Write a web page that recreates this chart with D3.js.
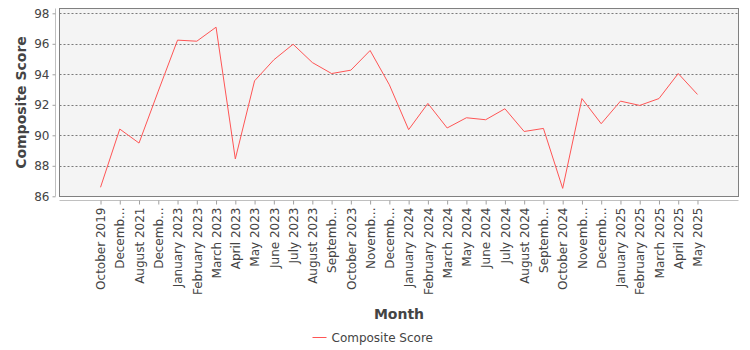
<!DOCTYPE html>
<html>
<head>
<meta charset="utf-8">
<script src="https://cdn.jsdelivr.net/npm/d3@7/dist/d3.min.js"></script>
<style>
  html, body { margin: 0; padding: 0; background: #ffffff; }
  svg { display: block; font-family: "DejaVu Sans", sans-serif; }
</style>
</head>
<body>
<svg id="chart" width="750" height="350"></svg>
<script>
// Monthly composite score
const categories = [
  "October 2019", "December 2020", "August 2021", "December 2022",
  "January 2023", "February 2023", "March 2023", "April 2023", "May 2023",
  "June 2023", "July 2023", "August 2023", "September 2023", "October 2023",
  "November 2023", "December 2023", "January 2024", "February 2024",
  "March 2024", "May 2024", "June 2024", "July 2024", "August 2024",
  "September 2024", "October 2024", "November 2024", "December 2024",
  "January 2025", "February 2025", "March 2025", "April 2025", "May 2025"
];

// Axis labels as shown (long month names are shortened)
const tickLabels = [
  "October 2019", "Decemb...", "August 2021", "Decemb...",
  "January 2023", "February 2023", "March 2023", "April 2023", "May 2023",
  "June 2023", "July 2023", "August 2023", "Septemb...", "October 2023",
  "Novemb...", "Decemb...", "January 2024", "February 2024",
  "March 2024", "May 2024", "June 2024", "July 2024", "August 2024",
  "Septemb...", "October 2024", "Novemb...", "Decemb...",
  "January 2025", "February 2025", "March 2025", "April 2025", "May 2025"
];

const scores = [
  86.59, 90.41, 89.49, 92.90,
  96.24, 96.17, 97.09, 88.45, 93.57,
  94.95, 95.97, 94.77, 94.05, 94.27,
  95.56, 93.31, 90.37, 92.09,
  90.48, 91.15, 91.02, 91.74, 90.25,
  90.45, 86.52, 92.41, 90.76,
  92.24, 91.96, 92.41, 94.05, 92.68
];

const yTicks = [86, 88, 90, 92, 94, 96, 98];

const seriesName = "Composite Score";
const xTitle = "Month";
const yTitle = "Composite Score";

const svg = d3.select("#chart");

const plot = { left: 59.5, right: 738.5, top: 8.5, bottom: 196.5 };

const x = d3.scalePoint()
  .domain(categories)
  .range([plot.left, plot.right])
  .padding(2.13);

const y = d3.scaleLinear()
  .domain([86, 98])
  .range([196.3, 13.3]);

// plot background
svg.append("rect")
  .attr("x", plot.left).attr("y", plot.top)
  .attr("width", plot.right - plot.left)
  .attr("height", plot.bottom - plot.top)
  .attr("fill", "#f4f4f4");

// horizontal gridlines
svg.append("g")
  .selectAll("line")
  .data(yTicks)
  .join("line")
  .attr("x1", plot.left).attr("x2", plot.right)
  .attr("y1", d => Math.round(y(d)) + 0.5)
  .attr("y2", d => Math.round(y(d)) + 0.5)
  .attr("stroke", "#7a7a7a")
  .attr("stroke-width", 1)
  .attr("stroke-dasharray", "2,2");

// plot outline
svg.append("rect")
  .attr("x", plot.left).attr("y", plot.top)
  .attr("width", plot.right - plot.left)
  .attr("height", plot.bottom - plot.top)
  .attr("fill", "none")
  .attr("stroke", "#808080")
  .attr("stroke-width", 1);

// y axis
const yAxis = d3.axisLeft(y)
  .tickValues(yTicks)
  .tickFormat(d3.format("d"))
  .tickSize(3)
  .tickPadding(3);

const gy = svg.append("g")
  .attr("transform", "translate(55.5,0)")
  .call(yAxis);
gy.select(".domain")
  .attr("d", `M0,${plot.top}V${plot.bottom}`)
  .attr("stroke", "#c0c0c0");
gy.selectAll(".tick line").attr("stroke", "#a0a0a0");
gy.selectAll(".tick text")
  .attr("fill", "#444")
  .style("font-size", "12px")
  .style("font-family", "DejaVu Sans, sans-serif");

// x axis
const xAxis = d3.axisBottom(x)
  .tickSize(4)
  .tickFormat((d, i) => tickLabels[i]);

const gx = svg.append("g")
  .attr("transform", "translate(0,200.5)")
  .call(xAxis);
gx.select(".domain")
  .attr("d", `M${plot.left},0H${plot.right}`)
  .attr("stroke", "#c0c0c0");
gx.selectAll(".tick line").attr("stroke", "#a0a0a0");
gx.selectAll(".tick text")
  .attr("fill", "#444")
  .style("font-size", "12px")
  .style("font-family", "DejaVu Sans, sans-serif")
  .attr("text-anchor", "end")
  .attr("transform", "rotate(-90)")
  .attr("x", -7)
  .attr("y", 0)
  .attr("dy", "0.35em");

// series line
const line = d3.line()
  .x((d, i) => x(categories[i]))
  .y(d => y(d));

svg.append("path")
  .datum(scores)
  .attr("d", line)
  .attr("fill", "none")
  .attr("stroke", "#ff5555")
  .attr("stroke-width", 1);

// axis titles
svg.append("text")
  .attr("transform", `translate(26,${(plot.top + plot.bottom) / 2}) rotate(-90)`)
  .attr("text-anchor", "middle")
  .attr("fill", "#444")
  .style("font-size", "14px")
  .style("font-weight", "bold")
  .text(yTitle);

svg.append("text")
  .attr("x", (plot.left + plot.right) / 2)
  .attr("y", 319)
  .attr("text-anchor", "middle")
  .attr("fill", "#444")
  .style("font-size", "14px")
  .style("font-weight", "bold")
  .text(xTitle);

// legend
const legend = svg.append("g").attr("transform", "translate(312.5,337.5)");
legend.append("line")
  .attr("x1", 0).attr("x2", 14)
  .attr("y1", 0).attr("y2", 0)
  .attr("stroke", "#ff5555")
  .attr("stroke-width", 1);
legend.append("text")
  .attr("x", 19)
  .attr("y", 4.5)
  .attr("fill", "#444")
  .style("font-size", "12px")
  .text(seriesName);
</script>
</body>
</html>
